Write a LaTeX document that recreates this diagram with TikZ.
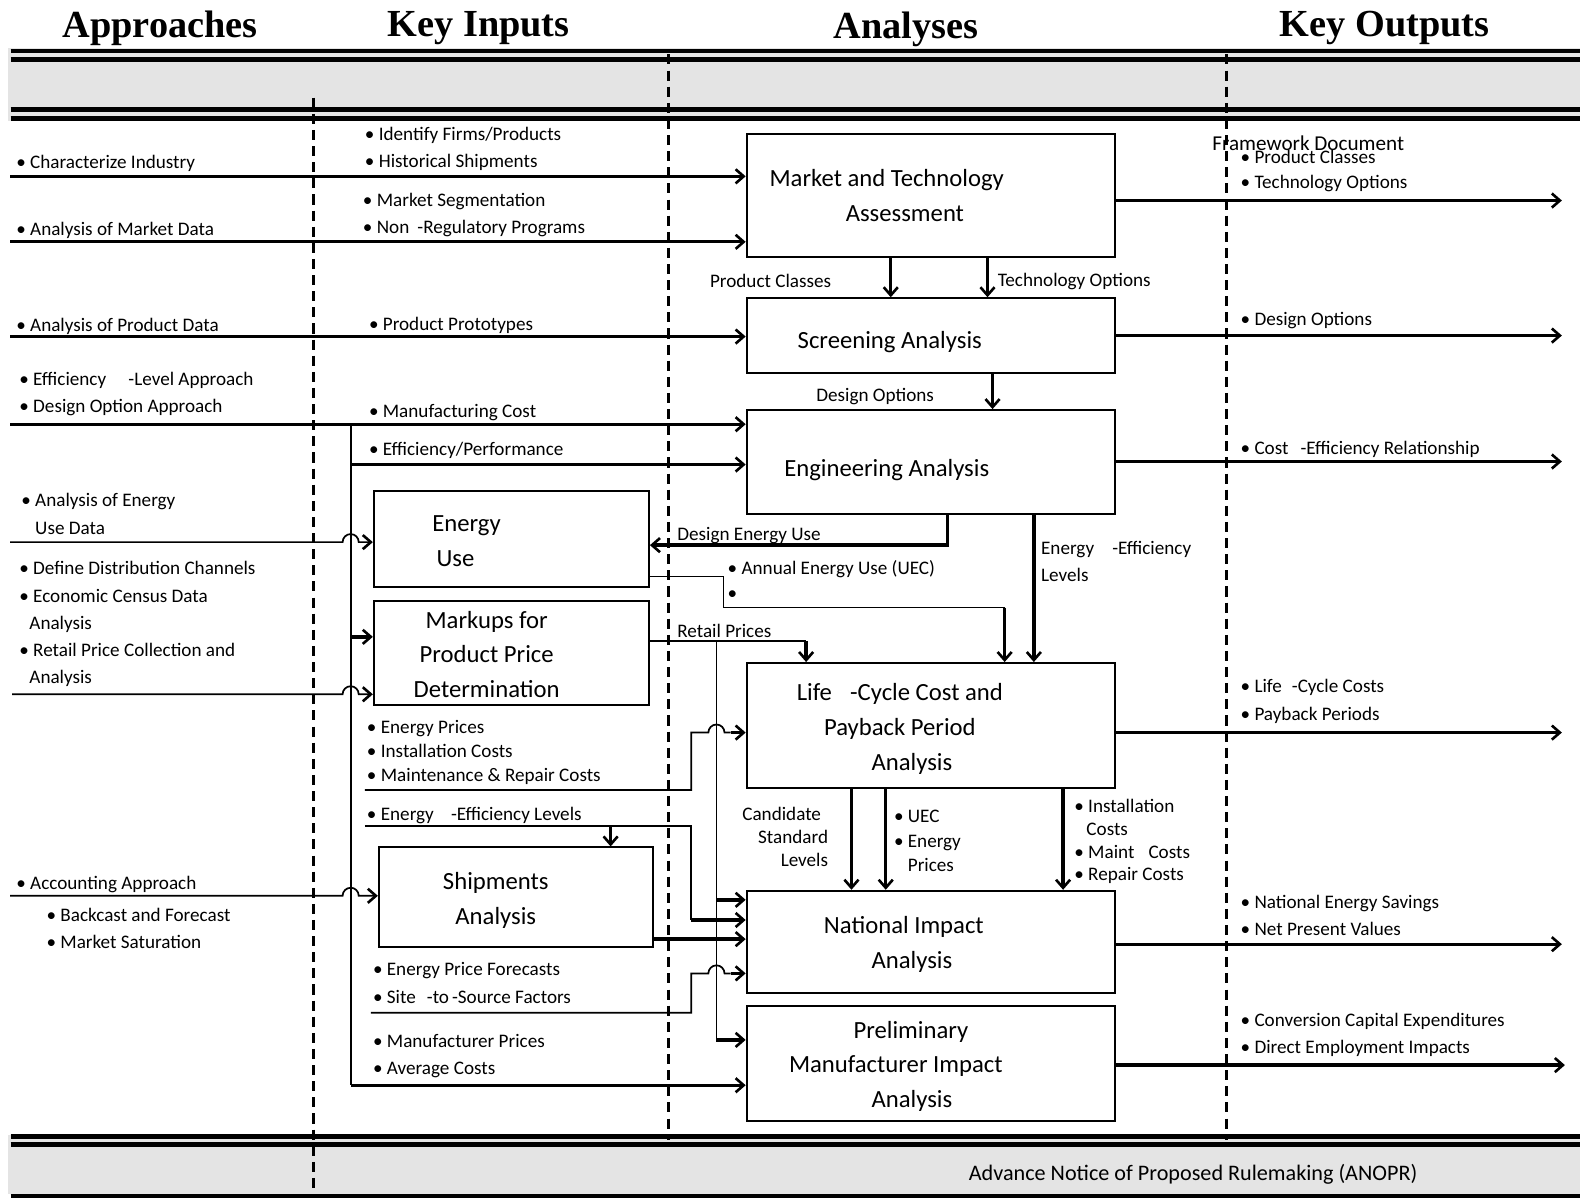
\documentclass[tikz,border=0pt]{standalone}
\usepackage{fontspec}
\setmainfont{Carlito}
\newfontfamily\headserif{Liberation Serif}
\usetikzlibrary{arrows.meta}
\usetikzlibrary{positioning}
\usetikzlibrary{calc}

\newcommand\ntxt{\fontsize{19}{27}\selectfont}
\newcommand\btxt{\fontsize{24.5}{34.5}\selectfont}
\newcommand\htxt{\headserif\bfseries\fontsize{38}{42}\selectfont}
\newcommand\ftxt{\fontsize{22}{27}\selectfont}
\definecolor{bandgray}{HTML}{E4E4E4}

\tikzset{
  box/.style={draw, line width=2pt, inner sep=0pt},
  boxtext/.style={font=\btxt, align=center, inner sep=0pt, yshift=-5.5pt,
    execute at begin node=\strut, execute at end node=\strut},
  note/.style={font=\ntxt, align=left, anchor=west, inner sep=0pt, yshift=-4pt,
    execute at begin node=\strut, execute at end node=\strut},
  heading/.style={font=\htxt, anchor=base, inner sep=0pt},
  thinline/.style={line width=1.7pt},
  thickline/.style={line width=3.3pt},
  arrowin/.style={-{Straight Barb[length=8pt,width=14pt,line width=2.6pt]}},
  divider/.style={line width=3pt, dash pattern=on 10pt off 6pt},
}

\begin{document}
\begin{tikzpicture}[x=1pt, y=1pt]
  \useasboundingbox (0,0) rectangle (1568,-1190);

  % title band and footer band
  \fill[bandgray] (8,-48) rectangle (1568,-120);
  \fill[bandgray] (8,-1126) rectangle (1568,-1185);
  \foreach \y/\w in {50.6/4.6, 59.3/4.8, 108.4/5, 117.4/4.7, 1128/5, 1135.5/5, 1187/4}
    \draw[line width=\w pt] (10.6,-\y) -- (1568,-\y);

  \node[heading] (h_app) at (159,-37) {Approaches};
  \node[heading] (h_inp) at (475,-36) {Key Inputs};
  \node[heading] (h_ana) at (899,-38) {Analyses};
  \node[heading] (h_out) at (1374,-36) {Key Outputs};
  \node[font=\ftxt, inner sep=0pt] (foot) at (1184,-1165)
    {Advance Notice of Proposed Rulemaking (ANOPR)};

  % column dividers
  \draw[divider] (311,-97) -- (311,-1180);
  \draw[divider] (663,-54) -- (663,-1131);
  \draw[divider] (1217,-54) -- (1217,-1131);

  % analysis boxes
  \node[box, minimum width=366, minimum height=122] (mta)  at (924,-194)    {};
  \node[box, minimum width=366, minimum height=74]  (scr)  at (924,-333)    {};
  \node[box, minimum width=366, minimum height=103] (eng)  at (924,-458.5)  {};
  \node[box, minimum width=273, minimum height=96]  (eu)   at (507.5,-535)  {};
  \node[box, minimum width=273, minimum height=104] (mkp)  at (507.5,-648)  {};
  \node[box, minimum width=366, minimum height=124] (lcc)  at (924,-720)    {};
  \node[box, minimum width=272, minimum height=99]  (shp)  at (512,-890.5)  {};
  \node[box, minimum width=366, minimum height=101] (nia)  at (924,-934.5)  {};
  \node[box, minimum width=366, minimum height=114] (pmia) at (924,-1055)   {};

  \node[boxtext] (mta_t)  at (880,-194)  {Market and Technology\\\hspace*{36pt}Assessment};
  \node[boxtext] (scr_t)  at (883,-333)  {Screening Analysis};
  \node[boxtext] (eng_t)  at (880,-460)  {Engineering Analysis};
  \node[boxtext] (eu_t)   at (458,-537)  {\hspace*{10pt}Energy\\Use\hspace*{12pt}};
  \node[boxtext] (mkp_t)  at (483,-649)  {Markups for\\Product Price\\Determination};
  \node[boxtext] (lcc_t)  at (893,-721)  {Life\hspace{18pt}-Cycle Cost and\\Payback Period\\\hspace*{24pt}Analysis};
  \node[boxtext] (shp_t)  at (492,-891)  {Shipments\\Analysis};
  \node[boxtext] (nia_t)  at (897,-935)  {National Impact\\\hspace*{16pt}Analysis};
  \node[boxtext] (pmia_t) at (889,-1056) {\hspace*{30pt}Preliminary\\Manufacturer Impact\\\hspace*{32pt}Analysis};

  % approaches
  \node[note] (ap_ind) at (16,-158) {• Characterize Industry};
  \node[note] (ap_mkt) at (16,-224) {• Analysis of Market Data};
  \node[note] (ap_prd) at (16,-320) {• Analysis of Product Data};
  \node[note] (ap_eff) at (19,-389.5) {• Efficiency\hspace{22pt}-Level Approach\\• Design Option Approach};
  \node[note] (ap_use) at (21,-510) {• Analysis of Energy\\\phantom{• }Use Data};
  \node[note] (ap_dst) at (19,-618) {• Define Distribution Channels\\• Economic Census Data\\\hspace*{10pt}Analysis\\• Retail Price Collection and\\\hspace*{10pt}Analysis};
  \node[note] (ap_acc) at (16,-873) {• Accounting Approach};
  \node[note] (ap_bfc) at (46,-921.5) {• Backcast and Forecast\\• Market Saturation};

  % key inputs
  \node[note] (in_frm) at (362,-146.5) {• Identify Firms/Products\\• Historical Shipments};
  \node[note] (in_seg) at (360,-211.5) {• Market Segmentation\\• Non\hspace{8pt}-Regulatory Programs};
  \node[note] (in_pro) at (366,-319) {• Product Prototypes};
  \node[note] (in_mfg) at (366,-405) {• Manufacturing Cost};
  \node[note] (in_prf) at (366,-443) {• Efficiency/Performance};
  \node[note] (in_ep)  at (364,-745) {• Energy Prices\\[-3pt]• Installation Costs\\[-3pt]• Maintenance \& Repair Costs};
  \node[note] (in_eel) at (364,-805) {• Energy\hspace{17pt}-Efficiency Levels};
  \node[note] (in_epf) at (370,-975.5) {• Energy Price Forecasts\\• Site\hspace{11pt}-to\hspace{3pt}-Source Factors};
  \node[note] (in_mfp) at (370,-1046.5) {• Manufacturer Prices\\• Average Costs};

  % labels between the analyses
  \node[note, anchor=east] (lb_pc)  at (825,-276) {Product Classes};
  \node[note] (lb_to)  at (990,-275) {Technology Options};
  \node[note] (lb_do)  at (810,-389) {Design Options};
  \node[note] (lb_deu) at (672,-527) {Design Energy Use};
  \node[note] (lb_uec) at (722,-575.5) {• Annual Energy Use (UEC)\\[-2pt]•};
  \node[note] (lb_eel) at (1033,-557.5) {Energy\hspace{18pt}-Efficiency\\Levels};
  \node[note] (lb_rp)  at (672,-623) {Retail Prices};
  \node[note, anchor=east, align=right] (lb_csl) at (822,-830.5) {Candidate\hspace*{7pt}\\[-4.5pt]Standard\hspace*{5pt}\\[-4.5pt]Levels};
  \node[note] (lb_uep) at (887,-834.5) {• UEC\\[-2.5pt]• Energy\\[-2.5pt]\phantom{• }Prices};
  \node[note] (lb_ins) at (1066,-834) {• Installation\\[-4.5pt]\hspace*{12pt}Costs\\[-4.5pt]• Maint\hspace{14pt}Costs\\[-4.5pt]• Repair Costs};

  % key outputs
  \node[note, font=\fontsize{21}{25}\selectfont] (out_fw) at (1203,-140) {Framework Document};
  \node[note] (out_mta) at (1231,-168.5) {• Product Classes\\[-2pt]• Technology Options};
  \node[note] (out_scr) at (1231,-314) {• Design Options};
  \node[note] (out_eng) at (1231,-442) {• Cost\hspace{12pt}-Efficiency Relationship};
  \node[note] (out_lcc) at (1231,-694.5) {• Life\hspace{10pt}-Cycle Costs\\• Payback Periods};
  \node[note] (out_nia) at (1231,-908.5) {• National Energy Savings\\• Net Present Values};
  \node[note] (out_mia) at (1231,-1025.5) {• Conversion Capital Expenditures\\• Direct Employment Impacts};

  % approaches feeding the analyses
  \coordinate (src_ind) at (10,-175);
  \coordinate (src_mkt) at (10,-240);
  \coordinate (src_prd) at (10,-334);
  \coordinate (src_eng) at (10,-421);
  \draw[thickline, arrowin] (src_ind) -- (src_ind -| mta.west);
  \draw[thickline, arrowin] (src_mkt) -- (src_mkt -| mta.west);
  \draw[thickline, arrowin] (src_prd) -- (src_prd -| scr.west);
  \draw[thickline, arrowin] (src_eng) -- (src_eng -| eng.west);

  % inner feed line
  \coordinate (spine_top) at (348,-421);
  \coordinate (tap_eng) at (348,-461);
  \coordinate (tap_mkp) at (348,-632);
  \coordinate (spine_bot) at (348,-1077);
  \draw[thinline] (spine_top) -- (spine_bot);
  \draw[thickline, arrowin] (tap_eng) -- (tap_eng -| eng.west);
  \draw[thickline, arrowin] (tap_mkp) -- (tap_mkp -| mkp.west);
  \draw[thickline, arrowin] (spine_bot) -- (spine_bot -| pmia.west);

  % thin inputs hopping over the feed line
  \coordinate (src_use) at (10,-538);
  \coordinate (src_mkp) at (12,-689);
  \coordinate (src_shp) at (10,-889);
  \draw[thinline, arrowin] (src_use) -- ([xshift=-8pt]src_use -| spine_top)
    arc[start angle=180, end angle=0, radius=8] -- (src_use -| eu.west);
  \draw[thinline, arrowin] (src_mkp) -- ([xshift=-8pt]src_mkp -| spine_top)
    arc[start angle=180, end angle=0, radius=8] -- (src_mkp -| mkp.west);
  \draw[thinline, arrowin] (src_shp) -- ([xshift=-8pt]src_shp -| spine_top)
    arc[start angle=180, end angle=0, radius=8] -- (src_shp -| shp.west);

  % key outputs
  \coordinate (out_1) at (1550,-199);
  \coordinate (out_2) at (1550,-333);
  \coordinate (out_3) at (1550,-458);
  \coordinate (out_4) at (1550,-727);
  \coordinate (out_5) at (1550,-937);
  \coordinate (out_6) at (1553,-1057);
  \draw[thickline, arrowin] (mta.east |- out_1) -- (out_1);
  \draw[thickline, arrowin] (scr.east |- out_2) -- (out_2);
  \draw[thickline, arrowin] (eng.east |- out_3) -- (out_3);
  \draw[thickline, arrowin] (lcc.east |- out_4) -- (out_4);
  \draw[thickline, arrowin] (nia.east |- out_5) -- (out_5);
  \draw[thickline, arrowin] (pmia.east |- out_6) -- (out_6);

  % between the analyses
  \draw[thickline, arrowin] ([xshift=-40pt]mta.south) -- ([xshift=-40pt]scr.north);
  \draw[thickline, arrowin] ([xshift=56pt]mta.south) -- ([xshift=56pt]scr.north);
  \draw[thickline, arrowin] ([xshift=61pt]scr.south) -- ([xshift=61pt]eng.north);
  \draw[thickline, arrowin] ([xshift=16pt]eng.south) |- ([yshift=-6pt]eu.east);
  \draw[thickline, arrowin] ([xshift=102pt]eng.south) -- ([xshift=102pt]lcc.north);

  \coordinate (uec_drop) at (997,-603);
  \draw[thinline] ([yshift=-37pt]eu.east) -| (718,-603) -- (uec_drop);
  \draw[thickline, arrowin] (uec_drop) -- (uec_drop |- lcc.north);

  \coordinate (rp_drop) at (800,-636);
  \coordinate (rp_split) at (711,-636);
  \coordinate (rp_nia) at (711,-893);
  \coordinate (rp_mia) at (711,-1032);
  \draw[thinline] ([yshift=12pt]mkp.east) -- (rp_drop);
  \draw[thickline, arrowin] (rp_drop) -- (rp_drop |- lcc.north);
  \draw[thinline] (rp_split) -- (rp_mia);
  \draw[thickline, arrowin] (rp_nia) -- (rp_nia -| nia.west);
  \draw[thickline, arrowin] (rp_mia) -- (rp_mia -| pmia.west);

  \coordinate (src_ep) at (362,-784);
  \coordinate (ep_in) at (725,-727);
  \draw[thinline] (src_ep) -- (686,-784) -- (686,-727) -- (703,-727)
    arc[start angle=180, end angle=0, radius=8] -- (ep_in);
  \draw[thickline, arrowin] (ep_in) -- (ep_in -| lcc.west);

  \coordinate (src_eel) at (362,-820);
  \coordinate (eel_tap) at (606,-820);
  \coordinate (eel_nia) at (686,-913);
  \draw[thinline] (src_eel) -- (686,-820) -- (eel_nia);
  \draw[thickline, arrowin] (eel_tap) -- (eel_tap |- shp.north);
  \draw[thickline, arrowin] (eel_nia) -- (eel_nia -| nia.west);

  \draw[thickline, arrowin] ([yshift=-41.5pt]shp.east) -- ([yshift=-41.5pt]shp.east -| nia.west);

  \coordinate (src_epf) at (368,-1005);
  \coordinate (epf_in) at (725,-966);
  \draw[thinline] (src_epf) -- (686,-1005) -- (686,-966) -- (703,-966)
    arc[start angle=180, end angle=0, radius=8] -- (epf_in);
  \draw[thickline, arrowin] (epf_in) -- (epf_in -| nia.west);

  \foreach \dx in {-79,-45,131}
    \draw[thickline, arrowin] ([xshift=\dx pt]lcc.south) -- ([xshift=\dx pt]nia.north);
\end{tikzpicture}
\end{document}
